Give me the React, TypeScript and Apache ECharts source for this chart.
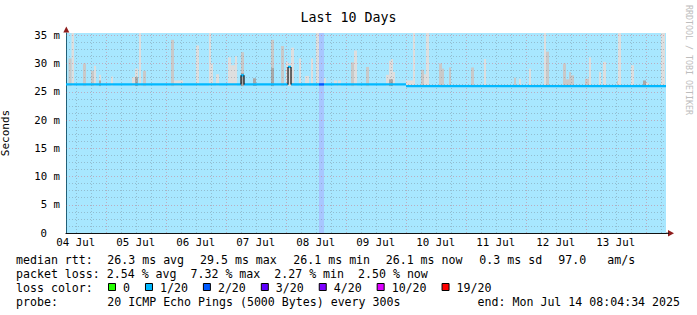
import React, { useEffect, useRef } from 'react';
import * as echarts from 'echarts';

// time axis in hours after 04 Jul 00:00 (local)
const START = 8.076; // 04 Jul 08:04:34
const END = 248.076; // 14 Jul 08:04:34
const Y_MAX = 35.4; // ms
const SMOKE_BASE = 26.0;

const dayLabels = ['04 Jul', '05 Jul', '06 Jul', '07 Jul', '08 Jul', '09 Jul', '10 Jul', '11 Jul', '12 Jul', '13 Jul'];
const dayLabelHours = [12, 36, 60, 84, 108, 132, 156, 180, 204, 228];
const midnightHours = [24, 48, 72, 96, 120, 144, 168, 192, 216, 240];
const yTickValues = [0, 5, 10, 15, 20, 25, 30, 35];

const lossLabels = ['0', '1/20', '2/20', '3/20', '4/20', '10/20', '19/20'];
const lossColors = ['#26ff00', '#00b8ff', '#0059ff', '#5e00ff', '#7e00ff', '#dd00ff', '#ff0000'];

// [start h, end h, loss colour index]
const lossBands = [
  [START, 109.28, 1],
  [109.28, 111.28, 2],
  [111.28, END, 1],
];

// [start h, end h, median ms, loss colour index]
const medianSteps = [
  [START, 78.08, 26.3, 1],
  [78.08, 79.28, 27.9, 1],
  [79.28, 96.88, 26.3, 1],
  [96.88, 98.08, 29.4, 1],
  [98.08, 109.28, 26.3, 1],
  [109.28, 111.28, 26.3, 2],
  [111.28, 144.08, 26.3, 1],
  [144.08, END, 26.0, 1],
];

// smoke: [start h, end h, top ms]
const smokeLight = [
  [10.28, 11.28, 35.4], [19.28, 20.08, 29.6], [21.28, 22.08, 28.0], [26.08, 26.88, 27.7],
  [34.48, 35.68, 27.6], [35.68, 36.88, 29.1], [37.28, 38.08, 35.4], [51.28, 54.88, 27.0],
  [60.08, 61.28, 33.2], [65.28, 66.08, 35.4], [66.08, 66.88, 30.0], [68.08, 69.28, 28.1],
  [72.88, 74.08, 31.1], [74.08, 75.68, 29.7], [75.68, 76.48, 31.3], [96.08, 96.88, 30.3],
  [96.88, 98.08, 30.0], [98.08, 99.28, 32.8], [101.28, 102.08, 30.9], [103.68, 105.28, 27.8],
  [106.08, 106.88, 30.9], [108.08, 109.28, 35.4], [111.28, 112.08, 27.4], [115.28, 116.48, 27.0],
  [116.88, 118.08, 27.0], [123.28, 124.48, 32.3], [136.08, 137.28, 28.0], [137.28, 138.08, 30.5],
  [138.08, 138.88, 30.8], [138.88, 139.68, 28.5], [144.08, 146.88, 27.0], [146.88, 147.68, 35.4],
  [151.28, 152.08, 28.1], [152.08, 153.28, 35.4], [175.28, 176.08, 30.8], [189.28, 190.08, 27.3],
  [193.28, 194.08, 29.1], [199.28, 200.08, 35.4], [217.28, 218.08, 31.1], [221.28, 222.08, 28.5],
  [222.88, 224.08, 30.3], [228.88, 230.08, 35.4], [234.08, 235.28, 29.7], [240.08, 241.28, 26.6],
  [246.08, 247.68, 35.4],
];
const smokeMid = [
  [9.08, 10.28, 30.9], [14.88, 16.08, 30.0], [18.08, 19.28, 28.7], [38.88, 40.08, 28.7],
  [50.08, 51.28, 34.2], [78.08, 79.28, 32.0], [90.08, 91.28, 34.2], [94.08, 95.28, 33.1],
  [122.08, 123.28, 30.2], [128.08, 129.28, 29.4], [150.08, 151.28, 28.9], [157.28, 158.48, 30.0],
  [158.48, 159.28, 29.1], [161.28, 162.08, 29.3], [170.08, 171.28, 29.3], [187.28, 188.08, 27.5],
  [200.08, 201.28, 32.1], [206.88, 208.08, 30.0], [208.08, 209.28, 27.2], [209.28, 210.08, 28.5],
  [210.08, 211.28, 27.9], [215.68, 217.28, 27.3], [228.48, 228.88, 26.9],
];
const smokeDark = [
  [21.28, 22.08, 27.0], [35.68, 36.88, 27.6], [78.08, 79.28, 28.3], [82.88, 84.08, 27.4],
  [90.08, 91.28, 29.2], [137.28, 138.88, 27.2], [238.88, 240.08, 27.0],
];

const rttLabel = 'median rtt:';
const rttStats = ['26.3 ms avg', '29.5 ms max', '26.1 ms min', '26.1 ms now', '0.3 ms sd', '97.0', 'am/s'];
const lossLabel = 'packet loss:';
const lossStats = ['2.54 % avg', '7.32 % max', '2.27 % min', '2.50 % now'];
const lossColorLabel = 'loss color:';
const probeLabel = 'probe:';
const probeText = '20 ICMP Echo Pings (5000 Bytes) every 300s';
const endText = 'end: Mon Jul 14 08:04:34 2025';

const MONO = '"DejaVu Sans Mono", monospace';
const LEG_FONT = `11.6px ${MONO}`;
const CW = 6.98;

function smokeSeries(data: number[][], color: string, z: number) {
  return {
    type: 'custom',
    data,
    z,
    clip: true,
    silent: true,
    encode: { x: [0, 1], y: 2 },
    renderItem: (params: any, api: any) => {
      const p0 = api.coord([api.value(0), api.value(2)]);
      const p1 = api.coord([api.value(1), SMOKE_BASE]);
      return {
        type: 'rect',
        shape: { x: p0[0], y: p0[1], width: p1[0] - p0[0], height: p1[1] - p0[1] },
        style: { fill: color },
      };
    },
  };
}

export default function App() {
  const ref = useRef<HTMLDivElement>(null);
  useEffect(() => {
    if (!ref.current) return;
    const chart = echarts.init(ref.current, undefined, { renderer: 'svg' });

    const minorX: number[] = [];
    for (let h = 12; h < END; h += 6) if (h % 24 !== 0) minorX.push(h);
    const minorY: number[] = [];
    for (let v = 1.25; v < 35; v += 1.25) if (Math.abs(v % 5) > 0.01) minorY.push(v);
    const majorY = [5, 10, 15, 20, 25, 30, 35];

    const minorStyle = { color: 'rgba(100,100,110,0.32)', width: 1, type: [1, 2] };
    const majorStyle = { color: 'rgba(225,50,60,0.32)', width: 1, type: [1, 2] };
    const gridLines: any[] = [
      ...minorX.map((h) => ({ xAxis: h, lineStyle: minorStyle })),
      ...minorY.map((v) => ({ yAxis: v, lineStyle: minorStyle })),
      ...midnightHours.map((h) => ({ xAxis: h, lineStyle: majorStyle })),
      ...majorY.map((v) => ({ yAxis: v, lineStyle: majorStyle })),
    ];

    const rttX = [107.3, 200, 293.3, 385.7, 479.3, 558.3, 607.3];
    const lossCols = [13, 25, 37, 49];

    const graphic: any[] = [];
    const txt = (text: string, x: number, y: number, extra: any = {}) =>
      graphic.push({
        type: 'text',
        x,
        y,
        silent: true,
        style: { text, fill: '#000', font: LEG_FONT, align: 'left', verticalAlign: 'middle', ...extra },
      });
    txt(rttLabel, 16, 259.5);
    rttStats.forEach((s, i) => txt(s, rttX[i], 259.5));
    txt(lossLabel, 16, 273.5);
    lossStats.forEach((s, i) => txt(s, 16 + lossCols[i] * CW, 273.5));
    txt(lossColorLabel, 16, 287.5);
    let lx = 108;
    lossLabels.forEach((lab, i) => {
      graphic.push({
        type: 'rect',
        silent: true,
        shape: { x: lx + 0.5, y: 283.5, width: 7, height: 7 },
        style: { fill: lossColors[i], stroke: '#000', lineWidth: 1 },
      });
      txt(lab, lx + 15, 287.5);
      lx = lx + 15 + lab.length * CW + 15;
    });
    txt(probeLabel, 16, 301.5);
    txt(probeText, 107.3, 301.5);
    txt(endText, 680, 301.5, { align: 'right' });
    graphic.push({
      type: 'text',
      x: 689,
      y: 5,
      rotation: -Math.PI / 2,
      silent: true,
      style: { text: 'RRDTOOL / TOBI OETIKER', fill: '#bdbdbd', font: `8.3px ${MONO}`, align: 'left', verticalAlign: 'middle' },
    });
    graphic.push({
      type: 'polygon',
      silent: true,
      shape: { points: [[63.3, 32.5], [66.3, 26.5], [69.3, 32.5]] },
      style: { fill: '#8e1c1c' },
    });
    graphic.push({
      type: 'polygon',
      silent: true,
      shape: { points: [[668, 230], [674, 233.3], [668, 236.6]] },
      style: { fill: '#8e1c1c' },
    });
    graphic.push({
      type: 'line',
      silent: true,
      shape: { x1: 666, y1: 233.3, x2: 669, y2: 233.3 },
      style: { stroke: '#111', lineWidth: 1.2 },
    });

    chart.setOption({
      animation: false,
      backgroundColor: '#ffffff',
      title: {
        text: 'Last 10 Days',
        left: 'center',
        top: 6,
        textStyle: { fontFamily: MONO, fontSize: 13.3, fontWeight: 'normal', color: '#000' },
      },
      grid: { left: 66, top: 33, width: 600, height: 200, containLabel: false, outerBoundsMode: 'none' },
      xAxis: {
        type: 'value',
        min: START,
        max: END,
        splitLine: { show: false },
        axisTick: { show: false },
        axisLine: { show: true, onZero: false, lineStyle: { color: '#111', width: 1.2 } },
        axisLabel: {
          customValues: dayLabelHours,
          formatter: (v: number) => {
            const i = dayLabelHours.findIndex((h) => Math.abs(h - v) < 0.01);
            return i >= 0 ? dayLabels[i] : '';
          },
          fontFamily: MONO,
          fontSize: 10.8,
          color: '#000',
          margin: 4,
        },
      },
      yAxis: {
        type: 'value',
        min: 0,
        max: Y_MAX,
        name: 'Seconds',
        nameLocation: 'middle',
        nameRotate: 90,
        nameGap: 55,
        nameTextStyle: { fontFamily: MONO, fontSize: 11, color: '#000' },
        splitLine: { show: false },
        axisTick: { show: false },
        axisLine: { show: true, lineStyle: { color: '#333', width: 1 } },
        axisLabel: {
          customValues: yTickValues,
          formatter: (v: number) => (v === 0 ? '{z|0}' : `${v} m`),
          fontFamily: MONO,
          fontSize: 10.7,
          color: '#000',
          margin: 6,
          rich: { z: { fontFamily: MONO, fontSize: 10.7, color: '#000', padding: [0, 13, 0, 0] } },
        },
      },
      series: [
        {
          type: 'custom',
          data: lossBands,
          z: 1,
          silent: true,
          clip: true,
          encode: { x: [0, 1] },
          renderItem: (params: any, api: any) => {
            const p0 = api.coord([api.value(0), Y_MAX]);
            const p1 = api.coord([api.value(1), 0]);
            return {
              type: 'rect',
              shape: { x: p0[0], y: p0[1], width: p1[0] - p0[0], height: p1[1] - p0[1] },
              style: { fill: lossColors[api.value(2)], opacity: 0.34 },
            };
          },
        },
        smokeSeries(smokeLight, '#dedede', 2),
        smokeSeries(smokeMid, '#c9c9c9', 3),
        smokeSeries(smokeDark, '#a9a9a9', 4),
        {
          type: 'line',
          data: [],
          z: 5,
          silent: true,
          markLine: {
            silent: true,
            symbol: ['none', 'none'],
            label: { show: false },
            animation: false,
            data: gridLines,
          },
        },
        {
          type: 'custom',
          data: medianSteps,
          z: 6,
          silent: true,
          clip: true,
          encode: { x: [0, 1], y: 2 },
          renderItem: (params: any, api: any) => {
            const i = params.dataIndex;
            const [s, e, v, l] = medianSteps[i];
            const a = api.coord([s, v]);
            const b = api.coord([e, v]);
            const children: any[] = [
              {
                type: 'line',
                shape: { x1: a[0], y1: a[1], x2: b[0], y2: b[1] },
                style: { stroke: lossColors[l], lineWidth: 2.4 },
              },
            ];
            if (i > 0) {
              const pv = medianSteps[i - 1][2];
              if (Math.abs(pv - v) > 0.5) {
                const c = api.coord([s, pv]);
                children.push({
                  type: 'line',
                  shape: { x1: a[0], y1: c[1], x2: a[0], y2: a[1] },
                  style: { stroke: '#151515', lineWidth: 1.2 },
                });
              }
            }
            return { type: 'group', children };
          },
        },
      ],
      graphic,
    });
    return () => chart.dispose();
  }, []);
  return <div ref={ref} style={{ position: 'fixed', left: 0, top: 0, width: 697, height: 315 }} />;
}
